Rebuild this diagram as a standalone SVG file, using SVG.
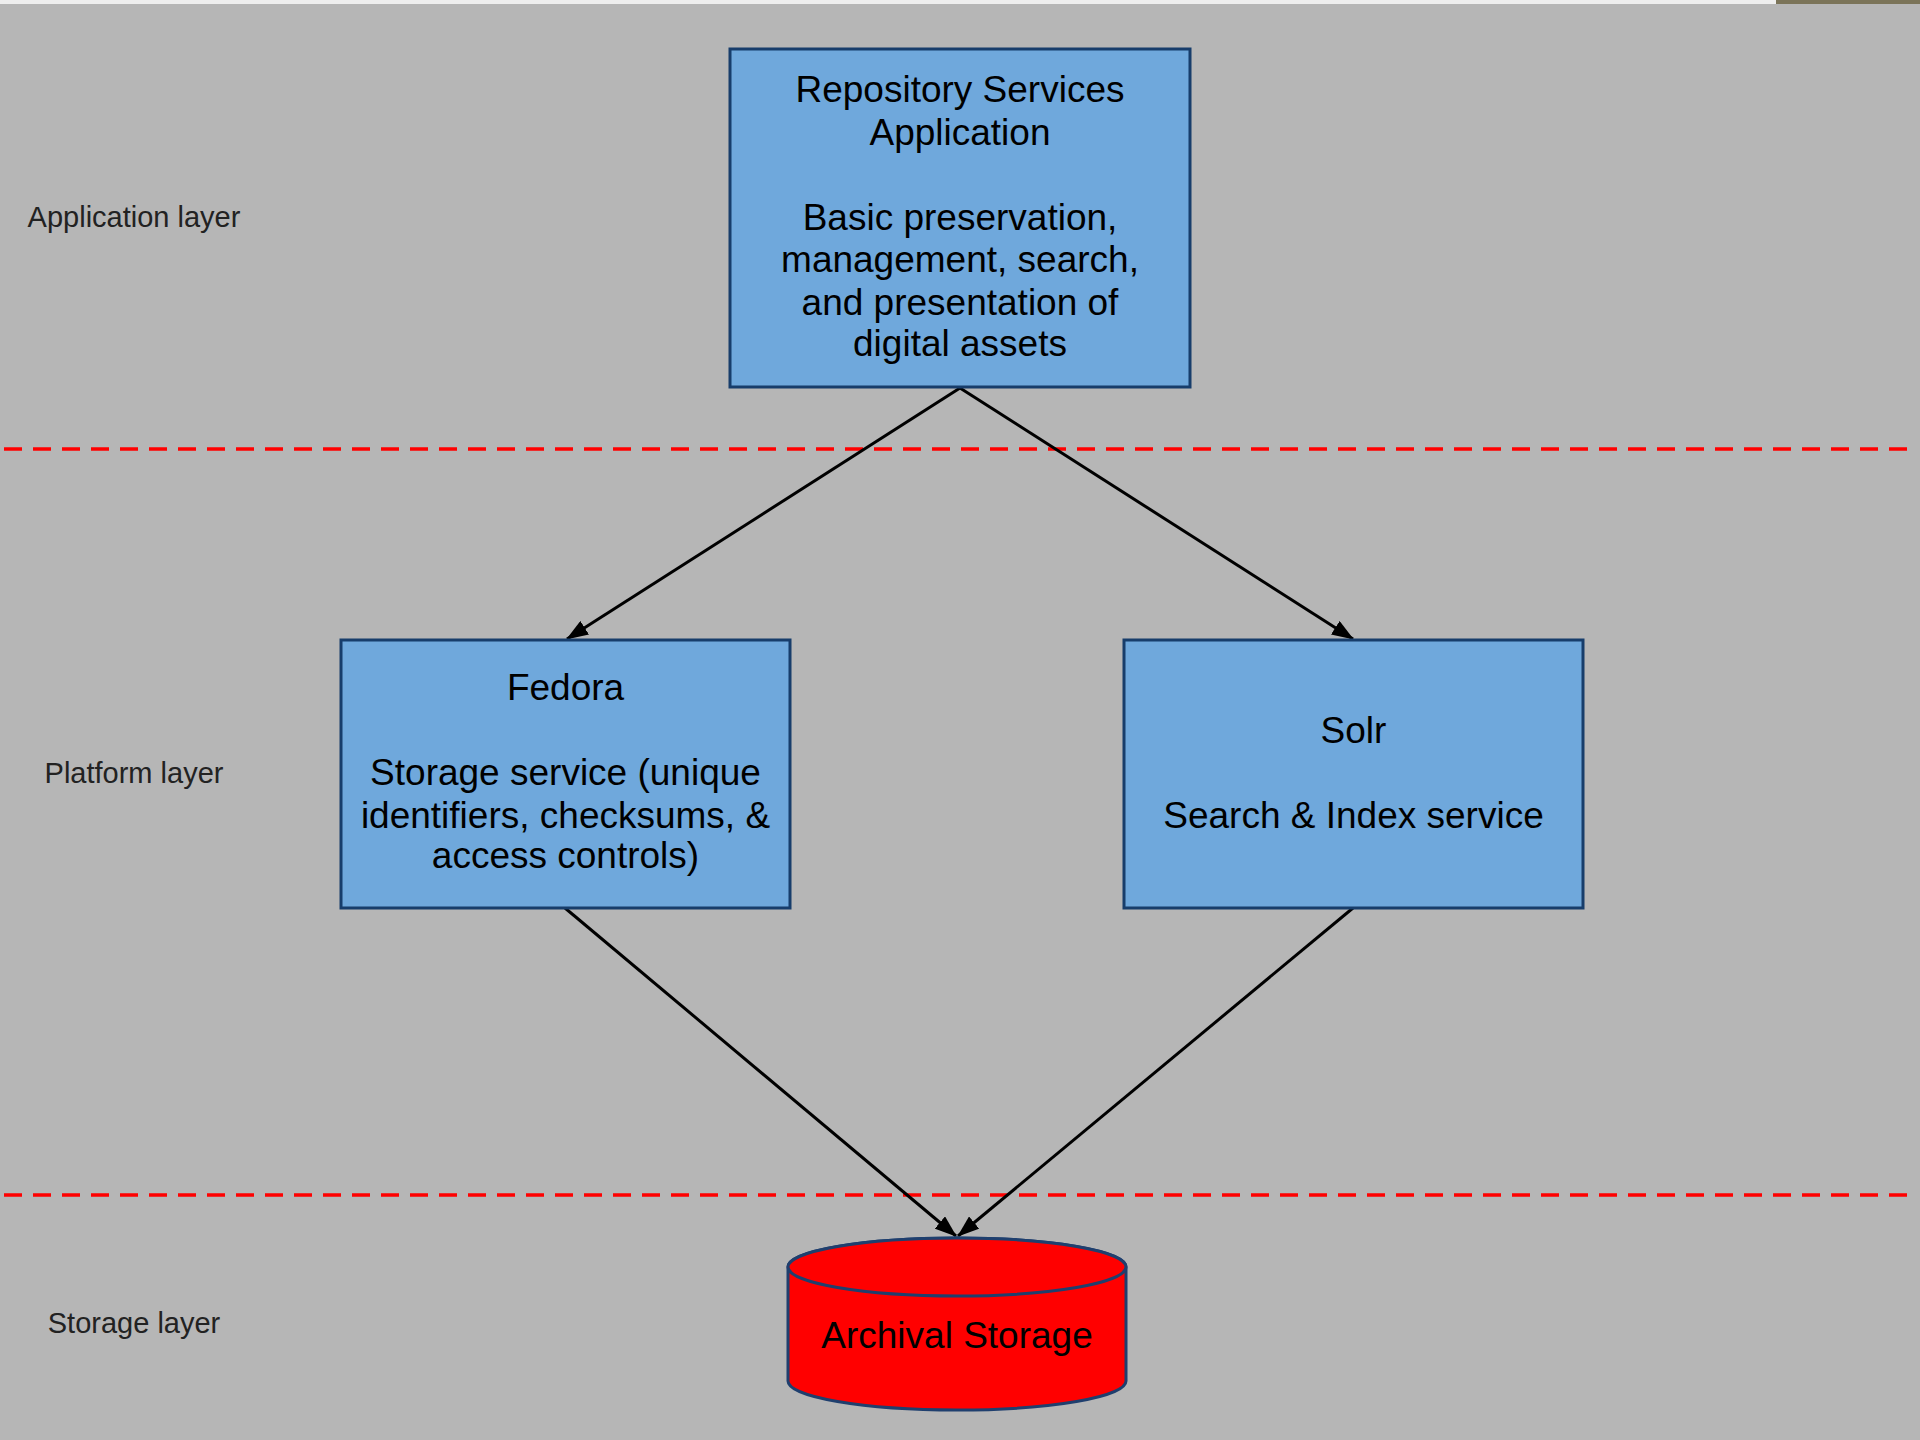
<svg xmlns="http://www.w3.org/2000/svg" width="1920" height="1440" viewBox="0 0 1920 1440">
<style>
.node{fill:#6fa8dc;stroke:#173d6b;stroke-width:3}
.t{font-family:"Liberation Sans",Arial,sans-serif;font-size:37px;fill:#000;text-anchor:middle}
.lay{font-family:"Liberation Sans",Arial,sans-serif;font-size:29px;fill:#222;text-anchor:middle}
.sep{stroke:#ff0000;stroke-width:3.5;stroke-dasharray:18 11;fill:none}
.edge{stroke:#000;stroke-width:3;fill:none;marker-end:url(#ah)}
.cyl{fill:#ff0000;stroke:#1f3f6e;stroke-width:3}
</style>
<defs>
<marker id="ah" viewBox="0 0 22 16" refX="21" refY="8" markerWidth="22" markerHeight="16" markerUnits="userSpaceOnUse" orient="auto">
<path d="M0,0 L22,8 L0,16 Z" fill="#000"/>
</marker>
</defs>
<rect x="0" y="0" width="1920" height="1440" fill="#b6b6b6"/>
<rect x="0" y="0" width="1776" height="4" fill="#eeeeee"/>
<rect x="1776" y="0" width="144" height="4" fill="#7b7459"/>
<g id="separators">
<line class="sep" x1="4" y1="449" x2="1912" y2="449"/>
<line class="sep" x1="4" y1="1195" x2="1912" y2="1195"/>
</g>
<g id="layer-labels">
<text class="lay" x="134" y="227">Application layer</text>
<text class="lay" x="134" y="783">Platform layer</text>
<text class="lay" x="134" y="1333">Storage layer</text>
</g>
<g id="connectors">
<line class="edge" x1="960" y1="388" x2="567" y2="639"/>
<line class="edge" x1="960" y1="388" x2="1353" y2="639"/>
<line class="edge" x1="565" y1="908" x2="956" y2="1236"/>
<line class="edge" x1="1353" y1="908" x2="958" y2="1236"/>
</g>
<g id="repository-services">
<rect class="node" x="730" y="49" width="460" height="338"/>
<text class="t" x="960" y="102">Repository Services</text>
<text class="t" x="960" y="145">Application</text>
<text class="t" x="960" y="230">Basic preservation,</text>
<text class="t" x="960" y="272">management, search,</text>
<text class="t" x="960" y="315">and presentation of</text>
<text class="t" x="960" y="356">digital assets</text>
</g>
<g id="fedora">
<rect class="node" x="341" y="640" width="449" height="268"/>
<text class="t" x="565.5" y="700">Fedora</text>
<text class="t" x="565.5" y="785">Storage service (unique</text>
<text class="t" x="565.5" y="828">identifiers, checksums, &amp;</text>
<text class="t" x="565.5" y="868">access controls)</text>
</g>
<g id="solr">
<rect class="node" x="1124" y="640" width="459" height="268"/>
<text class="t" x="1353.5" y="743">Solr</text>
<text class="t" x="1353.5" y="828">Search &amp; Index service</text>
</g>
<g id="archival-storage">
<path class="cyl" d="M788,1267 L788,1381 A169,29 0 0 0 1126,1381 L1126,1267 A169,29 0 0 0 788,1267 Z"/>
<ellipse class="cyl" cx="957" cy="1267" rx="169" ry="29"/>
<text class="t" x="957" y="1348">Archival Storage</text>
</g>
</svg>
